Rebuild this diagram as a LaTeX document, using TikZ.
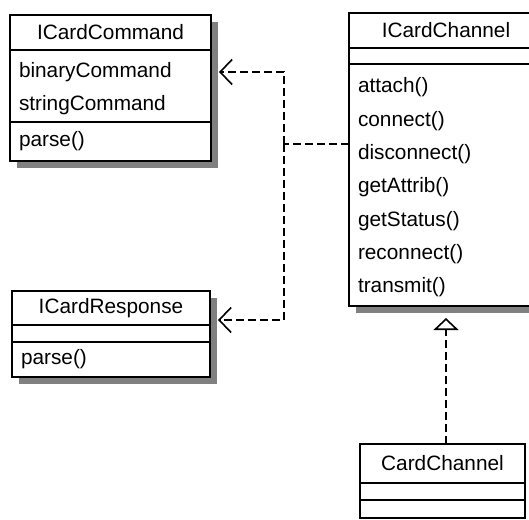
\documentclass[tikz,border=0pt]{standalone}
\usepackage{fontspec}
\setmainfont{Liberation Sans}
\usetikzlibrary{arrows.meta, positioning, shadows}
\newcommand{\umlfont}{\fontsize{20.8}{33.3}\selectfont}
\newcommand{\rowstrut}{\rule[-8.8pt]{0pt}{33.3pt}}

\begin{document}
\begin{tikzpicture}[x=1pt, y=1pt, node distance=0pt,
  every node/.style={font=\umlfont},
  part/.style={draw, line width=1.6pt, fill=white, outer sep=0pt,
    inner xsep=9pt, inner ysep=0pt, align=left},
  shadowed/.style={drop shadow={shadow xshift=7pt, shadow yshift=-7pt,
    fill=gray, opacity=1}},
  dep/.style={line width=1.6pt, dash pattern=on 8pt off 4pt}]
  \useasboundingbox (0,0) rectangle (529,-519);
  % ICardCommand
  \node (cmd) at (110.5,-32.5) [part, shadowed, align=center, text width=183pt, minimum height=35pt] {ICardCommand};
  \node (cmdattr) [part, shadowed, below=of cmd, text width=183pt, minimum height=72pt]
    {\rowstrut binaryCommand\\\rowstrut stringCommand};
  \node (cmdops) [part, shadowed, below=of cmdattr, text width=183pt, minimum height=39pt] {parse()};
  % ICardResponse
  \node (resp) at (111,-308) [part, shadowed, align=center, text width=180pt, minimum height=34pt] {ICardResponse};
  \node (respattr) [part, shadowed, below=of resp, text width=180pt, minimum height=17pt] {};
  \node (respops) [part, shadowed, below=of respattr, text width=180pt, minimum height=35pt] {parse()};
  % ICardChannel
  \node (chan) at (446,-30.5) [part, shadowed, align=center, text width=176pt, minimum height=35pt] {ICardChannel};
  \node (chanattr) [part, shadowed, below=of chan, text width=176pt, minimum height=16pt] {};
  \node (chanops) [part, shadowed, below=of chanattr, text width=176pt, minimum height=242pt]
    {\rowstrut attach()\\\rowstrut connect()\\\rowstrut disconnect()\\\rowstrut getAttrib()\\
     \rowstrut getStatus()\\\rowstrut reconnect()\\\rowstrut transmit()};
  % CardChannel
  \node (card) at (442.5,-463.5) [part, align=center, text width=147pt, minimum height=39pt] {CardChannel};
  \node (cardattr) [part, below=of card, text width=147pt, minimum height=17pt] {};
  \node (cardops) [part, below=of cardattr, text width=147pt, minimum height=18pt] {};
  % dependencies
  \coordinate (fork) at (284,-144);
  \draw[dep] (chanops.west |- fork) -- (fork);
  \draw[dep, -{Straight Barb[length=12pt, width=25pt]}, shorten >=8pt] (fork) |- (cmdattr.east |- 0,-72);
  \draw[dep, -{Straight Barb[length=12pt, width=25pt]}, shorten >=8pt] (fork) |- (resp.east |- 0,-320);
  % realization
  \draw[dep, -{Triangle[open, length=12pt, width=25pt, fill=white]}, shorten >=12pt] (chanops.south |- card.north) -- (chanops.south);
\end{tikzpicture}
\end{document}
